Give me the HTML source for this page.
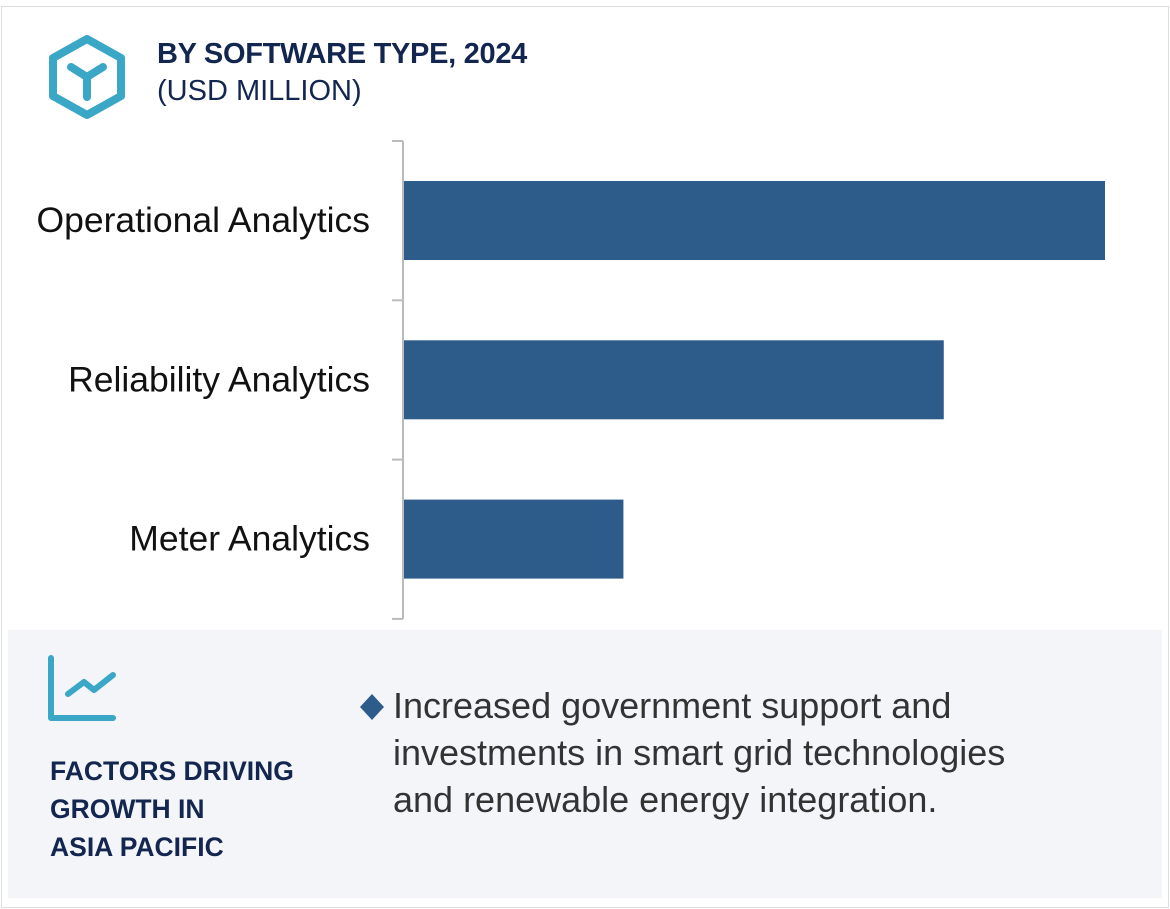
<!DOCTYPE html>
<html><head><meta charset="utf-8"><style>
body{margin:0;width:1170px;height:909px;background:#fff;font-family:"Liberation Sans",sans-serif;position:relative;overflow:hidden}
.frame{position:absolute;left:1px;top:6px;width:1166px;height:900px;border:1px solid #dcdde2}
.t1{position:absolute;left:157px;top:38px;font-size:29px;font-weight:bold;color:#13264f;letter-spacing:-0.3px}
.t2{position:absolute;left:157px;top:75px;font-size:29px;color:#13264f}
.panel{position:absolute;left:8px;top:630px;width:1154px;height:268px;background:#f4f5f9}
.ft{position:absolute;left:50px;top:752px;font-size:26.5px;font-weight:bold;color:#13264f;line-height:38px}
.bt{position:absolute;left:393px;top:682px;font-size:36px;color:#333;line-height:47px}
</style></head><body>
<div class="frame"></div>
<svg style="position:absolute;left:46px;top:33px" width="84" height="88">
<polygon points="41,6 75,25 75,63 41,82 7,63 7,25" fill="none" stroke="#3aa7c7" stroke-width="8" stroke-linejoin="round"/>
<path d="M25,34 L41,44 L57,34 M41,44 L41,64" fill="none" stroke="#3aa7c7" stroke-width="8" stroke-linecap="round" stroke-linejoin="round"/>
</svg>
<div class="t1">BY SOFTWARE TYPE, 2024</div>
<div class="t2">(USD MILLION)</div>
<svg id="chart" style="position:absolute;left:0;top:0" width="1170" height="630"></svg>
<div class="panel"></div>
<svg style="position:absolute;left:46px;top:652px" width="75" height="75">
<path d="M5,6 L5,66 L67,66" fill="none" stroke="#3aa7c7" stroke-width="6" stroke-linecap="round" stroke-linejoin="round"/>
<path d="M22,42 L38,30 L48,38 L67,23" fill="none" stroke="#3aa7c7" stroke-width="6" stroke-linecap="round" stroke-linejoin="round"/>
</svg>
<div class="ft">FACTORS DRIVING<br>GROWTH IN<br>ASIA PACIFIC</div>
<svg style="position:absolute;left:358px;top:692px" width="28" height="30"><polygon points="14,2 26,15 14,28 2,15" fill="#2d5c8a"/></svg>
<div class="bt">Increased government support and<br>investments in smart grid technologies<br>and renewable energy integration.</div>
<script>
const categories=["Operational Analytics","Reliability Analytics","Meter Analytics"];
const values=[100,77,31.3];
const svg=document.getElementById('chart');
const NS='http://www.w3.org/2000/svg';
const x0=404,maxW=701,maxV=100,chartTop=141,bandH=159.3;
const xScale=v=>x0+v/maxV*maxW;
const yBand=i=>chartTop+i*bandH;
function mk(t,a){const e=document.createElementNS(NS,t);for(const k in a)e.setAttribute(k,a[k]);svg.appendChild(e);return e;}
const ax=mk('line',{x1:403,y1:chartTop,x2:403,y2:chartTop+bandH*categories.length,stroke:'#bbb','stroke-width':2});


for(let i=0;i<=categories.length;i++){const t=mk('line',{x1:392,x2:403,y1:yBand(i),y2:yBand(i),stroke:'#bbb','stroke-width':2});

}
categories.forEach((c,i)=>{
const r=mk('rect',{x:x0,y:yBand(i)+40,width:xScale(values[i])-x0,height:79,fill:'#2d5c8a'});


const tx=mk('text',{x:370,y:yBand(i)+91,'text-anchor':'end','font-size':35.5,fill:'#111','font-family':'Liberation Sans, sans-serif'});
tx.textContent=c;


});
</script>
</body></html>
